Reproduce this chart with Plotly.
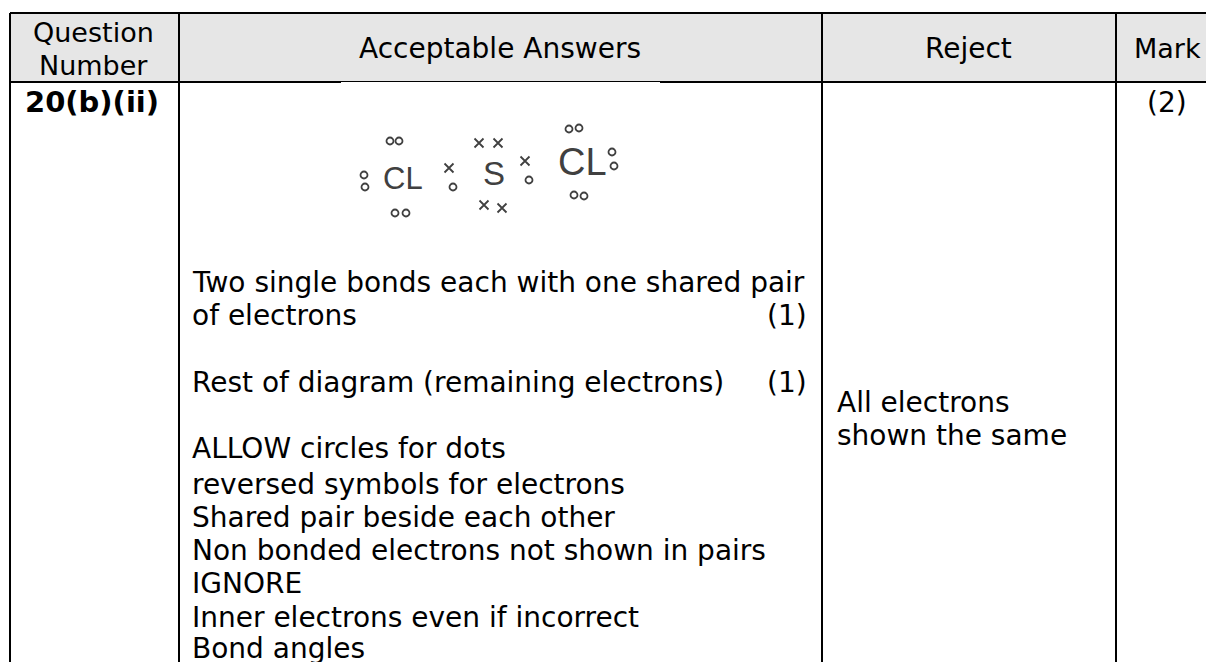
import plotly.graph_objects as go

# Table content
header_labels = ["Question", "Number", "Acceptable Answers", "Reject", "Mark"]
header_x = [93, 93, 500, 968, 1167]
header_y = [32, 65, 48, 48, 48]
header_size = [27, 27, 28, 28, 27]
question_label = "20(b)(ii)"
mark_label = "(2)"

answer_lines = [
    "Two single bonds each with one shared pair",
    "of electrons",
    "Rest of diagram (remaining electrons)",
    "ALLOW circles for dots",
    "reversed symbols for electrons",
    "Shared pair beside each other",
    "Non bonded electrons not shown in pairs",
    "IGNORE",
    "Inner electrons even if incorrect",
    "Bond angles",
]
answer_y = [282, 315, 382, 448, 484, 517, 550, 583, 617, 648]
mark_notes = ["(1)", "(1)"]
mark_notes_y = [315, 382]
reject_lines = ["All electrons", "shown the same"]
reject_y = [402, 435]

# Table grid
column_lines = [10, 179, 822, 1116]
row_lines = [13, 82]

# Dot-and-cross diagram
circles_x = [390, 399, 364, 365, 395, 406, 453, 529, 569, 579, 612, 614, 574, 584]
circles_y = [141, 141, 175, 187, 213, 213, 187, 180, 129, 128, 152, 166, 195, 196]
crosses_x = [449, 479, 498, 484, 502, 525]
crosses_y = [168, 143, 143, 205, 208, 161]
symbols = ["CL", "S", "CL"]
symbols_x = [403, 494, 582]
symbols_y = [178, 173, 162]
symbols_size = [31, 33, 38]

FONT = "DejaVu Sans"
TEXT_SIZE = 28
INK = "#404040"

fig = go.Figure()

fig.add_trace(go.Scatter(
    x=circles_x, y=circles_y, mode="markers", hoverinfo="skip",
    marker=dict(symbol="circle-open", size=7, color=INK, line=dict(width=1.8, color=INK)),
))
fig.add_trace(go.Scatter(
    x=crosses_x, y=crosses_y, mode="markers", hoverinfo="skip",
    marker=dict(symbol="x-thin", size=9, color=INK, line=dict(width=1.8, color=INK)),
))

shapes = [dict(type="rect", x0=column_lines[0], x1=1206, y0=row_lines[0], y1=row_lines[1],
               fillcolor="#e6e6e6", line=dict(width=0), layer="below")]
for cx in column_lines:
    shapes.append(dict(type="line", x0=cx, x1=cx, y0=row_lines[0], y1=662,
                       line=dict(color="black", width=2)))
for ry in row_lines:
    shapes.append(dict(type="line", x0=column_lines[0], x1=1206, y0=ry, y1=ry,
                       line=dict(color="black", width=2)))
# the pasted scan sits on top of the rule and thins it
shapes.append(dict(type="rect", x0=341, x1=660, y0=82, y1=84,
                   fillcolor="white", line=dict(width=0)))

annotations = []


def add_text(text, x, y, anchor="left", size=TEXT_SIZE, bold=False, color="black", family=FONT):
    annotations.append(dict(
        text=f"<b>{text}</b>" if bold else text,
        x=x, y=y, xref="x", yref="y", xanchor=anchor, yanchor="middle",
        showarrow=False, borderpad=0,
        font=dict(family=family, size=size, color=color),
    ))


for label, hx, hy, hs in zip(header_labels, header_x, header_y, header_size):
    add_text(label, hx, hy, anchor="center", size=hs)
add_text(question_label, 92, 102, anchor="center", size=29, bold=True)
add_text(mark_label, 1167, 102, anchor="center")
for line, ly in zip(answer_lines, answer_y):
    add_text(line, 191, ly)
for note, ny in zip(mark_notes, mark_notes_y):
    add_text(note, 808, ny, anchor="right")
for line, ly in zip(reject_lines, reject_y):
    add_text(line, 836, ly)
for sym, sx, sy, ss in zip(symbols, symbols_x, symbols_y, symbols_size):
    add_text(sym, sx, sy, anchor="center", size=ss, color=INK, family="Liberation Sans")

fig.update_layout(
    width=1206, height=662,
    margin=dict(l=0, r=0, t=0, b=0),
    paper_bgcolor="white", plot_bgcolor="white",
    showlegend=False,
    shapes=shapes, annotations=annotations,
    xaxis=dict(range=[0, 1206], visible=False, fixedrange=True),
    yaxis=dict(range=[662, 0], visible=False, fixedrange=True),
)

# the page's default body margin would shift the figure by 8px
fig.write_html("out.html", config=dict(displayModeBar=False),
               post_script="document.body.style.margin='0';document.body.style.overflow='hidden';")
